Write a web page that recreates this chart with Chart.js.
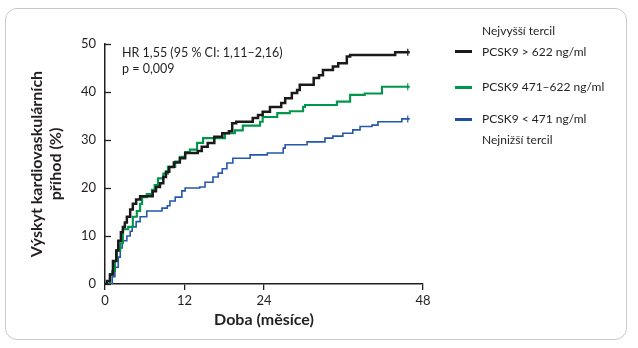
<!DOCTYPE html>
<html>
<head>
<meta charset="utf-8">
<script src="https://cdn.jsdelivr.net/npm/chart.js@4"></script>
<style>
html, body { margin: 0; padding: 0; background: #fff; }
#wrap { position: relative; width: 638px; height: 348px; font-family: Lato, "Open Sans", sans-serif; color: #231f20; }
#card { position: absolute; left: 5px; top: 8px; width: 622px; height: 332px; box-sizing: border-box; border: 1.5px solid #c8c8c8; border-radius: 12px; }
canvas { position: absolute; left: 0; top: 0; }
.t { position: absolute; white-space: nowrap; }
.ytitle { left: -55px; top: 145px; width: 200px; text-align: center; font-weight: bold; font-size: 16px; line-height: 19px; transform: rotate(-90deg); }
.xtitle { left: 164px; top: 309px; width: 200px; text-align: center; font-weight: bold; font-size: 16px; line-height: 20px; }
.note { left: 122px; top: 45px; font-size: 12.5px; line-height: 15.5px; }
.lg { font-size: 12px; line-height: 16px; left: 482px; }
.sw { position: absolute; left: 455px; width: 17px; height: 3px; }
</style>
</head>
<body>
<div id="wrap">
  <div id="card"></div>
  <canvas id="myChart" width="638" height="348"></canvas>
  <div class="t ytitle">Výskyt kardiovaskulárních<br>příhod (%)</div>
  <div class="t xtitle">Doba (měsíce)</div>
  <div class="t note">HR 1,55 (95 % CI: 1,11–2,16)<br>p = 0,009</div>
  <div class="t lg" style="top:23px">Nejvyšší tercil</div>
  <div class="sw" style="top:50px;background:#1a1a1a"></div>
  <div class="t lg" style="top:44px">PCSK9 &gt; 622 ng/ml</div>
  <div class="sw" style="top:86px;background:#00964b"></div>
  <div class="t lg" style="top:79px">PCSK9 471–622 ng/ml</div>
  <div class="sw" style="top:118px;background:#1f4e9c"></div>
  <div class="t lg" style="top:111px">PCSK9 &lt; 471 ng/ml</div>
  <div class="t lg" style="top:132px">Nejnižší tercil</div>
</div>
<script>
// months / cumulative incidence (%)
var blackT = [0, 0.3, 0.75, 1.2, 1.7, 2.0, 2.4, 2.7, 3.0, 3.3, 3.8, 4.2, 4.7, 5.3, 7.2, 7.7, 8.3, 8.8, 9.2, 9.7, 10.4, 11.3, 12.1, 14.0, 14.6, 15.5, 16.5, 17.7, 18.7, 19.2, 19.8, 22.3, 23.1, 23.8, 24.9, 26.6, 27.2, 28.2, 29.0, 29.4, 31.5, 32.3, 32.9, 34.4, 35.2, 36.5, 37.0, 43.8, 46];
var blackV = [0, 0.6, 2, 4.8, 7, 9, 10.8, 11.9, 12.8, 14, 15.5, 16.7, 17.6, 18.3, 19.3, 20.2, 21, 22.3, 23.4, 24.4, 25.3, 26.2, 27.3, 27.7, 28.6, 29.4, 30.7, 31.4, 31.8, 33.5, 33.8, 34.6, 35.2, 35.9, 36.9, 37.7, 38.7, 39.8, 40.4, 41.5, 42.9, 43.5, 44.6, 45.3, 46, 47.4, 47.7, 48.3, 48.3];

var greenT = [0, 0.75, 1.1, 1.5, 1.8, 2.3, 2.7, 3.5, 4.2, 4.8, 5.3, 5.6, 6.3, 7.1, 7.5, 8.0, 8.8, 9.5, 10.6, 11.3, 12.1, 12.8, 13.9, 14.8, 18.1, 19.6, 20.8, 23.4, 23.8, 26.0, 27.9, 29.9, 30.2, 35.0, 37.0, 39.2, 41.8, 46];
var greenV = [0, 2.0, 2.7, 4.8, 7, 8.5, 11.4, 11.9, 14, 15.2, 16.7, 18.1, 18.75, 19.6, 20.6, 22, 23, 24.4, 25.5, 26.5, 27.5, 28, 29.4, 30.4, 31.4, 32, 33, 33.8, 34.8, 35.6, 36, 36.9, 37.3, 38, 39.4, 39.7, 41.1, 41.1];

var blueT = [0, 1.1, 1.5, 2.0, 2.3, 2.6, 3.3, 3.8, 4.1, 4.7, 5.3, 6.3, 8.6, 9.4, 9.8, 10.6, 11.6, 12.1, 14.3, 15.1, 16.3, 17.1, 17.7, 18.4, 19.3, 21.9, 24.5, 26.9, 27.2, 30.5, 33.2, 34.4, 35.9, 37.4, 38.5, 40.3, 41.2, 44.8, 46];
var blueV = [0, 1.5, 3.5, 5.6, 7.5, 9, 10, 11, 11.9, 13, 14, 15.2, 15.8, 16.3, 17.3, 18.1, 19.4, 20, 20.2, 21.2, 22.3, 23.1, 24, 25.2, 26.2, 26.9, 27.3, 28.3, 29, 29.6, 30.4, 30.8, 31.4, 32.1, 32.8, 33.1, 33.8, 34.4, 34.4];

var censorT = 45.7;
var xTicks = [0, 12, 24, 48];
var yTicks = [0, 10, 20, 30, 40, 50];

function pts(t, v) {
  var out = [];
  for (var i = 0; i < t.length; i++) {
    if (i == t.length - 1) out.push({x: censorT, y: v[i]});
    out.push({x: t[i], y: v[i]});
  }
  return out;
}

function series(t, v, color, w) {
  return {
    data: pts(t, v),
    borderColor: color,
    backgroundColor: color,
    borderWidth: w,
    stepped: true,
    fill: false,
    pointStyle: 'line',
    rotation: 90,
    pointBorderWidth: 1.2,
    pointBorderColor: color,
    pointRadius: function(c) { return c.raw && c.raw.x === censorT ? 3.5 : 0; }
  };
}

var innerTicks = {
  id: 'innerTicks',
  afterDraw: function(chart) {
    var ctx = chart.ctx, ys = chart.scales.y, left = chart.chartArea.left;
    ctx.save();
    ctx.strokeStyle = '#231f20';
    ctx.lineWidth = 1.3;
    yTicks.forEach(function(v) {
      var p = Math.round(ys.getPixelForValue(v)) + 0.5;
      ctx.beginPath();
      ctx.moveTo(left, p);
      ctx.lineTo(left + 6, p);
      ctx.stroke();
    });
    ctx.restore();
  }
};

var tickFont = {family: 'Lato, "Open Sans", sans-serif', size: 13};

new Chart(document.getElementById('myChart'), {
  type: 'line',
  data: {
    datasets: [
      series(blackT, blackV, '#1a1a1a', 2.5),
      series(greenT, greenV, '#00964b', 2.1),
      series(blueT, blueV, '#2458aa', 1.6)
    ]
  },
  options: {
    responsive: false,
    animation: false,
    layout: {padding: {left: 0, right: 215, top: 44, bottom: 24}},
    plugins: {legend: {display: false}, tooltip: {enabled: false}},
    scales: {
      x: {
        type: 'linear', min: 0, max: 48,
        afterBuildTicks: function(s) { s.ticks = xTicks.map(function(v) { return {value: v}; }); },
        afterFit: function(s) { s.height = 40; },
        grid: {drawOnChartArea: false, drawTicks: true, tickLength: 6, color: '#231f20', lineWidth: 1.3},
        border: {color: '#231f20', width: 1.5},
        ticks: {padding: 3, maxRotation: 0, color: '#231f20', font: tickFont}
      },
      y: {
        min: 0, max: 50,
        afterBuildTicks: function(s) { s.ticks = yTicks.map(function(v) { return {value: v}; }); },
        afterFit: function(s) { s.width = 105; },
        grid: {drawOnChartArea: false, drawTicks: false},
        border: {color: '#231f20', width: 1.5},
        ticks: {padding: 9, color: '#231f20', font: tickFont}
      }
    }
  },
  plugins: [innerTicks]
});
</script>
</body>
</html>
